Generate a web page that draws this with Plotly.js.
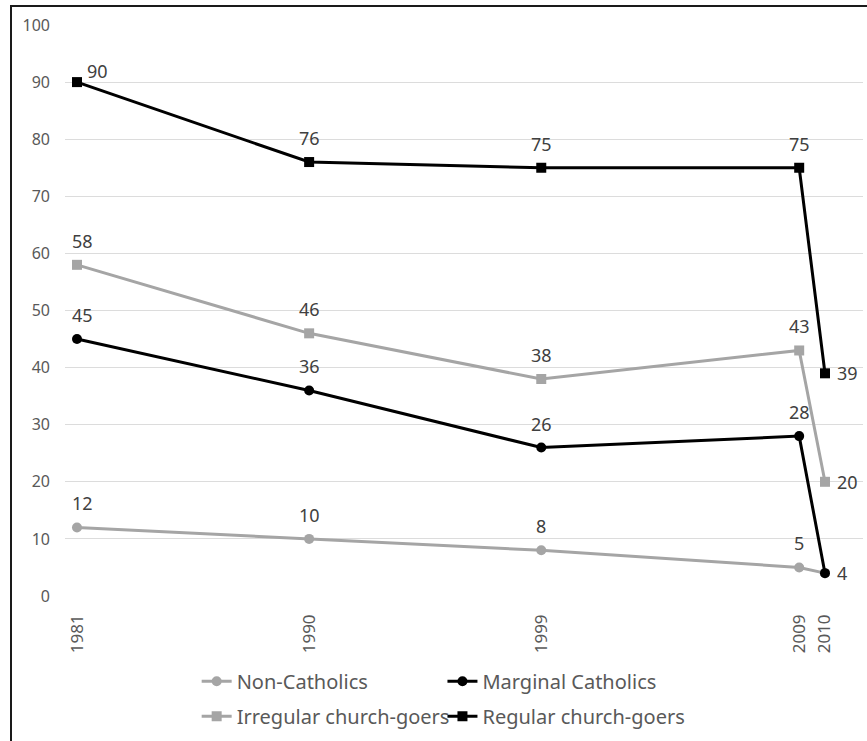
<!DOCTYPE html>
<html>
<head>
<meta charset="utf-8">
<script src="https://cdn.plot.ly/plotly-3.0.1.min.js"></script>
<style>
  html, body { margin: 0; padding: 0; background: #fff; }
  #wrap { position: relative; width: 867px; height: 741px; overflow: hidden; }
  #chart { position: absolute; left: 0; top: 0; width: 867px; height: 741px; }
  #frame { position: absolute; left: 10px; top: 5px; width: 900px; height: 800px;
           border-left: 2px solid #1a1a1a; border-top: 2px solid #1a1a1a; pointer-events: none; }
</style>
</head>
<body>
<div id="wrap">
  <div id="chart"></div>
  <div id="frame"></div>
</div>
<script>
// ---- Data ----
const years = [1981, 1990, 1999, 2009, 2010];
const yearLabels = ["1981", "1990", "1999", "2009", "2010"];
const nonCatholics = [12, 10, 8, 5, 4];
const marginalCatholics = [45, 36, 26, 28, 4];
const irregularChurchGoers = [58, 46, 38, 43, 20];
const regularChurchGoers = [90, 76, 75, 75, 39];
const seriesNames = ["Non-Catholics", "Marginal Catholics", "Irregular church-goers", "Regular church-goers"];

// ---- Styles ----
const GRAY = "#a5a5a5";
const BLACK = "#000000";
const FONT = "Noto Sans, Open Sans, sans-serif";
const TEXTC = "#404040";

const series = [
  { name: seriesNames[0], y: nonCatholics, color: GRAY, symbol: "circle", legend: "legend" },
  { name: seriesNames[1], y: marginalCatholics, color: BLACK, symbol: "circle", legend: "legend2" },
  { name: seriesNames[2], y: irregularChurchGoers, color: GRAY, symbol: "square", legend: "legend" },
  { name: seriesNames[3], y: regularChurchGoers, color: BLACK, symbol: "square", legend: "legend2" }
];

const traces = series.map((s, i) => ({
  type: "scatter",
  mode: "lines+markers",
  x: years,
  y: s.y,
  name: s.name,
  legend: s.legend,
  legendgroup: "g" + i,
  line: { color: s.color, width: 3 },
  marker: { color: s.color, symbol: s.symbol, size: 10 },
  hoverinfo: "x+y+name"
}));

const annotations = [];
series.forEach((s, si) => {
  s.y.forEach((v, i) => {
    const last = i === years.length - 1;
    if (last && si === 0) return; // hidden under Marginal Catholics label
    const a = {
      x: years[i], y: v, xref: "x", yref: "y",
      text: String(v), showarrow: false,
      font: { family: FONT, size: 18, color: TEXTC }
    };
    if (last) {
      a.xanchor = "left"; a.yanchor = "middle"; a.xshift = 10;
    } else if (si === 3 && i === 0) {
      a.xanchor = "left"; a.yanchor = "middle"; a.xshift = 8; a.yshift = 11;
    } else {
      a.xanchor = "center"; a.yanchor = "middle"; a.yshift = 24;
      if (i === 0) a.xshift = 6;
    }
    annotations.push(a);
  });
});

const legendCommon = {
  orientation: "v",
  font: { family: FONT, size: 20, color: "#595959" },
  bgcolor: "rgba(0,0,0,0)",
  borderwidth: 0,
  tracegroupgap: 6,
  itemwidth: 30,
  yanchor: "top",
  xanchor: "left"
};

const layout = {
  width: 867,
  height: 741,
  margin: { l: 65, r: 4, t: 25, b: 145 },
  paper_bgcolor: "#ffffff",
  plot_bgcolor: "#ffffff",
  showlegend: true,
  xaxis: {
    range: [1980.535, 2011.474],
    tickmode: "array",
    tickvals: years,
    ticktext: yearLabels,
    tickangle: -90,
    showgrid: false,
    zeroline: false,
    showline: false,
    ticks: "",
    ticklabelstandoff: 14,
    tickfont: { family: FONT, size: 17, color: "#595959" },
    fixedrange: true
  },
  yaxis: {
    range: [0, 100],
    tickvals: [0, 10, 20, 30, 40, 50, 60, 70, 80, 90, 100],
    showgrid: true,
    gridcolor: "#dcdcdc",
    gridwidth: 1,
    zeroline: false,
    showline: false,
    ticks: "",
    ticklabelstandoff: 14,
    tickfont: { family: FONT, size: 16, color: "#595959" },
    fixedrange: true
  },
  legend: Object.assign({}, legendCommon, { x: 0.165, y: -0.115 }),
  legend2: Object.assign({}, legendCommon, { x: 0.473, y: -0.115 }),
  annotations: annotations
};

Plotly.newPlot("chart", traces, layout, { displayModeBar: false, staticPlot: true });
</script>
</body>
</html>
